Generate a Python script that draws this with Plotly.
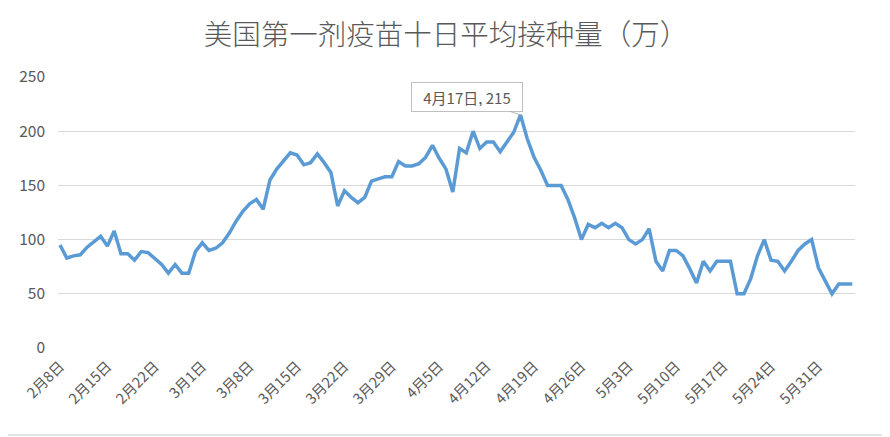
import datetime as dt
import plotly.graph_objects as go

# ── data ───────────────────────────────────────────────────────────
START = dt.date(2021, 2, 8)

doses_10d_avg = [
    95, 83, 85, 86, 93, 98, 103, 94, 108, 87,
    87, 81, 89, 88, 83, 77, 69, 77, 69, 69,
    89, 97, 90, 92, 97, 106, 117, 126, 133, 137,
    128, 155, 165, 172, 180, 178, 169, 171, 179, 171,
    162, 131, 145, 139, 134, 139, 154, 156, 158, 158,
    172, 168, 168, 170, 176, 187, 175, 165, 144, 184,
    180, 200, 184, 190, 190, 181, 190, 199, 215, 193,
    176, 164, 150, 150, 150, 137, 120, 100, 114, 111,
    115, 111, 115, 111, 100, 96, 100, 110, 80, 71,
    90, 90, 85, 73, 60, 80, 71, 80, 80, 80,
    50, 50, 64, 85, 100, 81, 80, 71, 80, 90,
    96, 100, 74, 62, 50, 59, 59, 59,
]

days = [START + dt.timedelta(days=i) for i in range(len(doses_10d_avg))]
date_labels = [f"{d.month}月{d.day}日" for d in days]
tick_labels = date_labels[::7]
y_ticks = [0, 50, 100, 150, 200, 250]

peak_i = doses_10d_avg.index(max(doses_10d_avg))

GREY = "#595959"
FONT = "Noto Sans CJK SC"

# plot area in px (page has an 8px body margin)
L, T, W, H = 50, 69, 797, 271

fig = go.Figure()
fig.add_trace(go.Scatter(
    x=date_labels, y=doses_10d_avg,
    mode="lines",
    line=dict(color="#5B9BD5", width=3.5),
    hoverinfo="x+y",
))

fig.add_annotation(
    x=date_labels[peak_i], y=doses_10d_avg[peak_i],
    text=f"{date_labels[peak_i]}, {doses_10d_avg[peak_i]}",
    showarrow=True, arrowhead=0, arrowwidth=0.8, arrowcolor="#a6a6a6",
    ax=-53, ay=-18, width=100, height=18,
    bgcolor="white", bordercolor="#bfbfbf", borderwidth=1, borderpad=5,
    font=dict(family=FONT, size=15, color=GREY),
)

# chart-area border, bottom edge (Excel style)
by0 = -(427 - T - H) / H
fig.add_shape(type="line", xref="paper", yref="paper",
              x0=-L / W, y0=by0, x1=(879 - L) / W, y1=by0,
              line=dict(color="#d9d9d9", width=1.5), layer="below")

fig.update_layout(
    width=890, height=437,
    margin=dict(l=L, r=890 - L - W, t=T, b=437 - T - H),
    paper_bgcolor="white", plot_bgcolor="white",
    showlegend=False,
    title=dict(
        text="美国第一剂疫苗十日平均接种量（万）",
        x=438 / 890, xanchor="center", y=1 - 27 / 437, yanchor="middle",
        font=dict(family=FONT, size=28.5, color=GREY, weight=300),
    ),
    font=dict(family=FONT, color=GREY),
    xaxis=dict(
        type="category", automargin=False,
        range=[-0.3, len(doses_10d_avg) - 0.6],
        tickmode="array", tickvals=tick_labels, ticktext=tick_labels,
        tickangle=-45, tickfont=dict(size=14.5, color=GREY),
        showgrid=False, showline=False, zeroline=False, ticks="",
        ticklabelstandoff=6,
    ),
    yaxis=dict(
        range=[0, 250], tickvals=y_ticks, automargin=False,
        tickfont=dict(size=15.5, color=GREY),
        gridcolor="#d9d9d9", gridwidth=1,
        zeroline=False, showline=False, ticks="",
        ticklabelstandoff=12,
    ),
)

fig.write_html("out.html")
